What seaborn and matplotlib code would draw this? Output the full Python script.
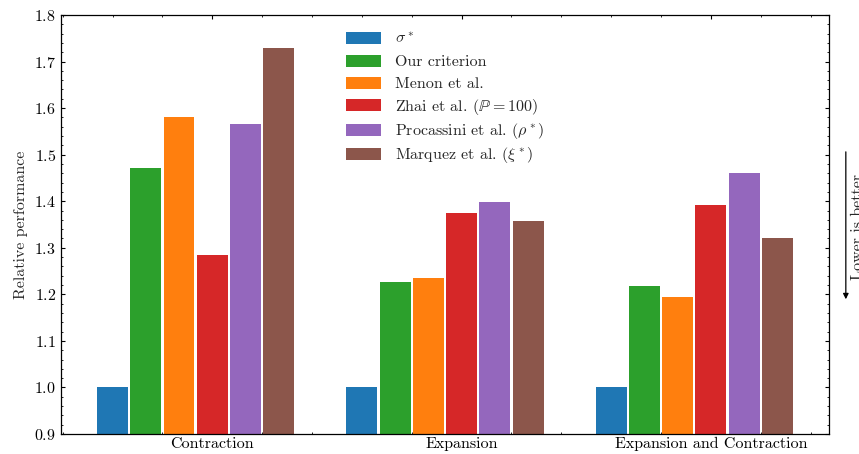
import numpy as np
import pandas as pd
import matplotlib
matplotlib.use("Agg")
import matplotlib.pyplot as plt
from matplotlib.ticker import AutoMinorLocator
from matplotlib.patches import Rectangle
from matplotlib.container import BarContainer
from matplotlib.legend_handler import HandlerPatch
import seaborn as sns

# --- dados ---
cenarios = ["Contraction", "Expansion", "Expansion and Contraction"]
metodos = [
    r"$\sigma^*$",
    "Our criterion",
    "Menon et al.",
    r"Zhai et al. ($\mathbb{P}=100$)",
    r"Procassini et al. ($\rho^*$)",
    r"Marquez et al. ($\xi^*$)",
]
sigma = [1.000, 1.000, 1.000]
nosso = [1.471, 1.226, 1.218]
menon = [1.581, 1.235, 1.194]
zhai = [1.284, 1.375, 1.392]
procassini = [1.566, 1.398, 1.461]
marquez = [1.729, 1.357, 1.321]
cores = ["#1f77b4", "#2ca02c", "#ff7f0e", "#d62728", "#9467bd", "#8c564b"]

valores = [sigma, nosso, menon, zhai, procassini, marquez]
largura = 0.8 / len(metodos)

# tabela longa: posicao numerica de cada barra (o tick fica na 4a barra)
linhas = []
for i, (m, v) in enumerate(zip(metodos, valores)):
    for g, val in enumerate(v):
        linhas.append({"pos": g + (i - 3) * largura, "metodo": m, "valor": val})
df = pd.DataFrame(linhas)

sns.set_style("ticks")
plt.rcParams.update({
    "font.family": "serif",
    "font.serif": ["cmr10", "DejaVu Serif"],
    "mathtext.fontset": "cm",
    "axes.formatter.use_mathtext": True,
    "font.size": 11.5,
    "axes.linewidth": 0.9,
    "xtick.direction": "in",
    "ytick.direction": "in",
    "xtick.top": True,
    "ytick.right": True,
    "xtick.major.size": 3,
    "ytick.major.size": 3,
    "xtick.minor.size": 1.5,
    "ytick.minor.size": 1.5,
    "xtick.minor.visible": True,
    "ytick.minor.visible": True,
    "xtick.color": "black",
    "ytick.color": "black",
    "axes.edgecolor": "black",
})

fig, ax = plt.subplots(figsize=(8.59, 4.54), dpi=100)
fig.subplots_adjust(left=0.071, right=0.965, top=0.967, bottom=0.044)

sns.barplot(data=df, x="pos", y="valor", hue="metodo", hue_order=metodos,
            palette=cores, native_scale=True, dodge=False, width=0.93,
            saturation=1, linewidth=0, ax=ax)

ax.set_xlim(-0.6067, 2.4733)
ax.set_ylim(0.9, 1.8)
ax.set_xticks(range(len(cenarios)))
ax.set_xticklabels(cenarios)
ax.set_yticks(np.arange(0.9, 1.81, 0.1))
ax.xaxis.set_minor_locator(AutoMinorLocator(5))
ax.yaxis.set_minor_locator(AutoMinorLocator(5))
ax.tick_params(which="both", top=True, right=True, direction="in")
ax.tick_params(axis="x", pad=2)
ax.set_xlabel("")
ax.set_ylabel("Relative performance")


# retangulo da legenda menor que a caixa -> linhas com espacamento uniforme
def retangulo(legend, orig_handle, xdescent, ydescent, width, height, fontsize):
    h = 0.75 * fontsize
    return Rectangle((-xdescent, -ydescent + (height - h) / 2), width, h)


def copia_cor(legend_handle, orig_handle):
    src = orig_handle[0] if isinstance(orig_handle, BarContainer) else orig_handle
    legend_handle.update_from(src)


handler = HandlerPatch(patch_func=retangulo, update_func=copia_cor)
handles, labels = ax.get_legend_handles_labels()
ax.legend(handles, labels, loc="upper center", frameon=False,
          handlelength=2.2, handleheight=1.45, handletextpad=0.85,
          labelspacing=0.22, borderaxespad=0.45,
          handler_map={Rectangle: handler, BarContainer: handler})

# seta "Lower is better" fora do eixo
ax.annotate("", xy=(1.022, 0.315), xytext=(1.022, 0.68), xycoords="axes fraction",
            arrowprops=dict(arrowstyle="-|>", color="black", lw=0.9,
                            mutation_scale=8))
ax.text(1.029, 0.495, "Lower is better", rotation=90, transform=ax.transAxes,
        va="center", ha="left")

fig.savefig("out.png", dpi=100)
